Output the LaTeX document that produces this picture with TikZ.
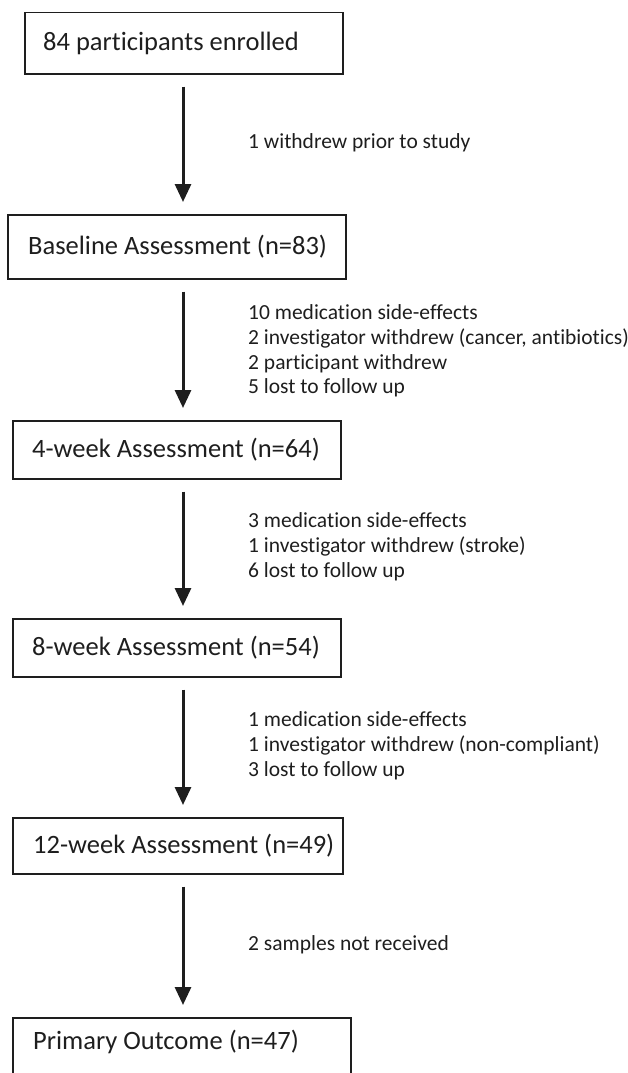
\documentclass[tikz,border=0pt]{standalone}
\usepackage{fontspec}
\setmainfont[Ligatures=NoCommon]{Carlito}
\usetikzlibrary{arrows.meta}
\definecolor{ink}{RGB}{30,30,30}
\begin{document}
\begin{tikzpicture}[x=1pt,y=-1pt,
  boxstyle/.style={draw=ink, line width=1.5pt, anchor=north west, inner sep=0pt},
  boxtext/.style={anchor=west, font=\fontsize{26.5}{30}\selectfont, text=ink, inner sep=0pt},
  sidetext/.style={anchor=west, align=left, font=\fontsize{21.5}{24.8}\selectfont, text=ink, inner sep=0pt},
  flow/.style={line width=3pt, draw=ink, -{Triangle[width=16pt,length=18pt]}}]
\useasboundingbox (0,0) rectangle (627,1073);
\coordinate (ax) at (183,0);
\node (b1) [boxstyle, minimum width=318pt, minimum height=61pt] at (24,12) {};
\node (b2) [boxstyle, minimum width=338pt, minimum height=64pt] at (7,214) {};
\node (b3) [boxstyle, minimum width=328pt, minimum height=58pt] at (12,420) {};
\node (b4) [boxstyle, minimum width=328pt, minimum height=58pt] at (12,618) {};
\node (b5) [boxstyle, minimum width=330pt, minimum height=56pt] at (12,817) {};
\node (b6) [boxstyle, minimum width=338pt, minimum height=60pt] at (12,1017) {};
\node (t1) [boxtext] at ([xshift=19pt]b1.west) {84 participants enrolled};
\node (t2) [boxtext] at ([xshift=21pt]b2.west) {Baseline Assessment (n=83)};
\node (t3) [boxtext] at ([xshift=20pt]b3.west) {4-week Assessment (n=64)};
\node (t4) [boxtext] at ([xshift=20pt]b4.west) {8-week Assessment (n=54)};
\node (t5) [boxtext] at ([xshift=21pt]b5.west) {12-week Assessment (n=49)};
\node (t6) [boxtext] at ([xshift=21pt,yshift=6pt]b6.west) {Primary Outcome (n=47)};
\draw[flow] ([yshift=-12pt]b1.south -| ax) -- ([yshift=12pt]b2.north -| ax);
\draw[flow] ([yshift=-12pt]b2.south -| ax) -- ([yshift=12pt]b3.north -| ax);
\draw[flow] ([yshift=-12pt]b3.south -| ax) -- ([yshift=12pt]b4.north -| ax);
\draw[flow] ([yshift=-12pt]b4.south -| ax) -- ([yshift=12pt]b5.north -| ax);
\draw[flow] ([yshift=-12pt]b5.south -| ax) -- ([yshift=12pt]b6.north -| ax);
\node (l1) [sidetext] at (248,143) {1 withdrew prior to study};
\node (l2) [sidetext] at (248,351) {10 medication side-effects\\2 investigator withdrew (cancer, antibiotics)\\2 participant withdrew\\5 lost to follow up};
\node (l3) [sidetext] at (248,547) {3 medication side-effects\\1 investigator withdrew (stroke)\\6 lost to follow up};
\node (l4) [sidetext] at (248,746) {1 medication side-effects\\1 investigator withdrew (non-compliant)\\3 lost to follow up};
\node (l5) [sidetext] at (248,945) {2 samples not received};
\end{tikzpicture}
\end{document}
